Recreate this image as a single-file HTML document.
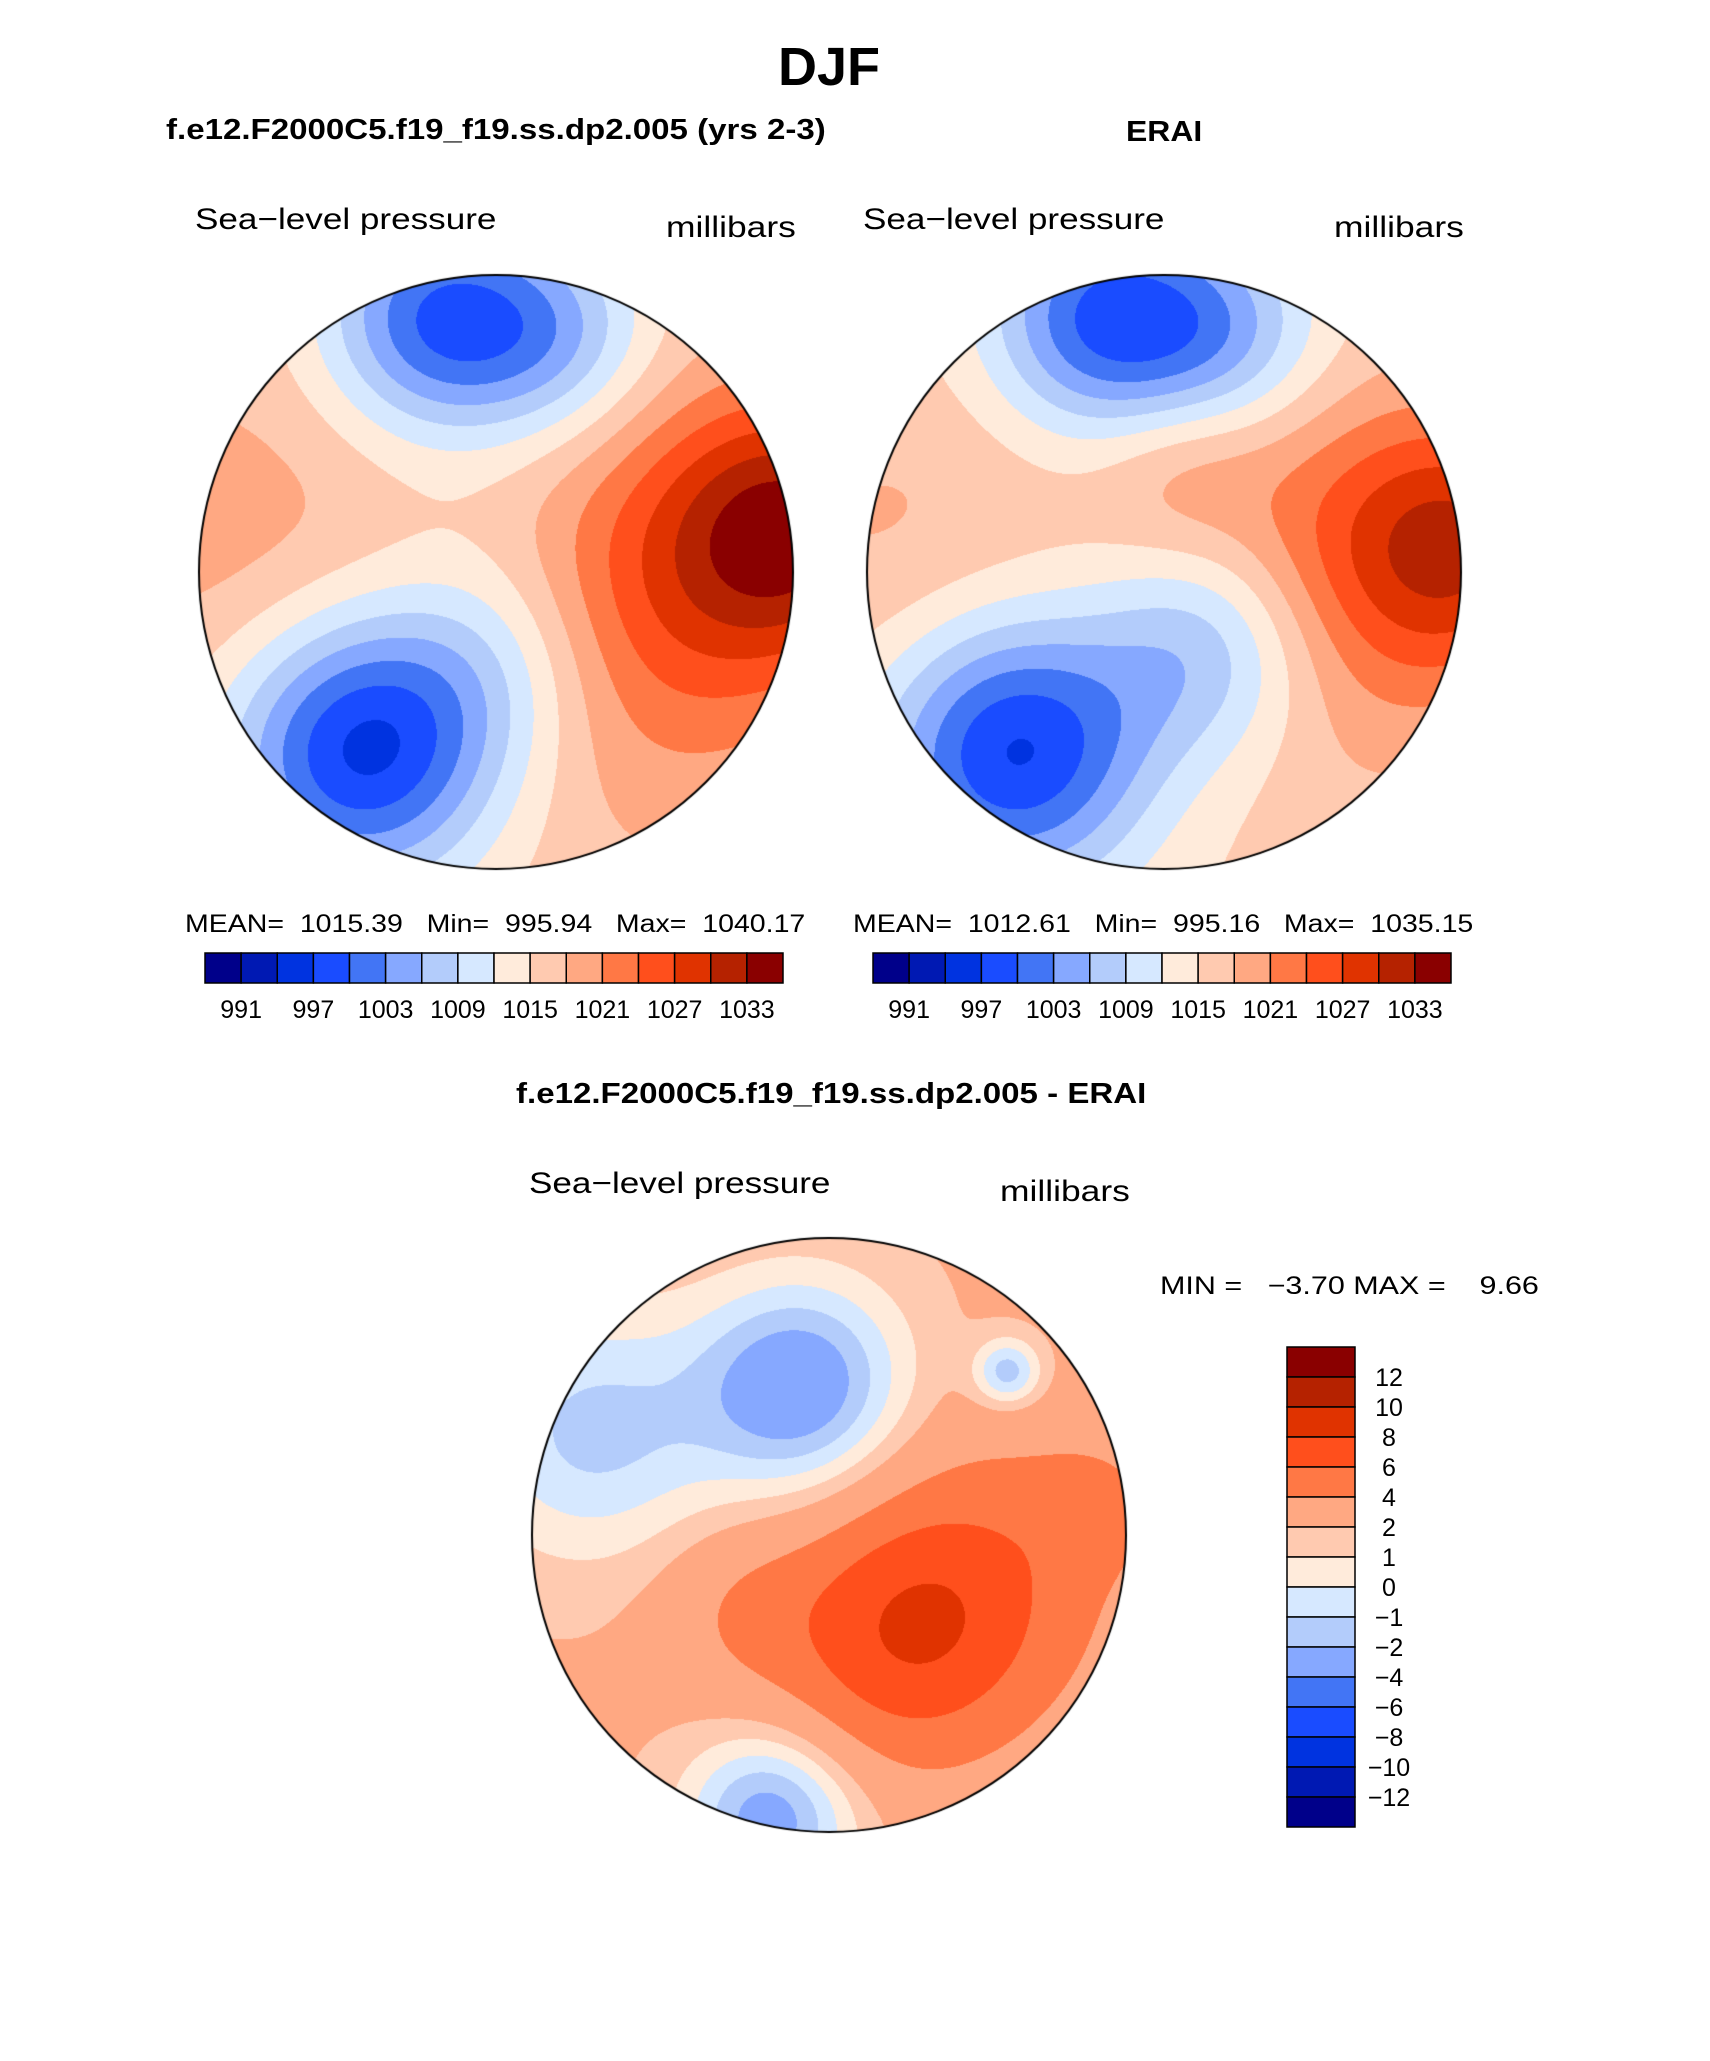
<!DOCTYPE html>
<html><head><meta charset="utf-8">
<style>
body{margin:0;background:#fff;}
#root{position:relative;width:1710px;height:2061px;overflow:hidden;background:#fff;font-family:"Liberation Sans",sans-serif;color:#000;}
.t{position:absolute;white-space:nowrap;line-height:1;transform-origin:0 0;}
.b{font-weight:bold;}
canvas{position:absolute;}
</style></head><body>
<div id="root">
<div class="t b" style="left:0;width:1658px;text-align:center;top:40px;font-size:54px;">DJF</div>
<div class="t b" style="left:166px;top:116px;font-size:29px;transform:scaleX(1.14);">f.e12.F2000C5.f19_f19.ss.dp2.005 (yrs 2-3)</div>
<div class="t b" style="left:1126px;top:118px;font-size:29px;transform:scaleX(1.1);">ERAI</div>
<div class="t" style="left:195px;top:205px;font-size:30px;transform:scaleX(1.17);">Sea−level pressure</div>
<div class="t" style="left:666px;top:213px;font-size:30px;transform:scaleX(1.18);">millibars</div>
<div class="t" style="left:863px;top:205px;font-size:30px;transform:scaleX(1.17);">Sea−level pressure</div>
<div class="t" style="left:1334px;top:213px;font-size:30px;transform:scaleX(1.18);">millibars</div>
<div class="t" style="left:185px;top:912px;font-size:25px;transform:scaleX(1.14);">MEAN=&nbsp; 1015.39 &nbsp;&nbsp;Min=&nbsp; 995.94 &nbsp;&nbsp;Max=&nbsp; 1040.17</div>
<div class="t" style="left:853px;top:912px;font-size:25px;transform:scaleX(1.14);">MEAN=&nbsp; 1012.61 &nbsp;&nbsp;Min=&nbsp; 995.16 &nbsp;&nbsp;Max=&nbsp; 1035.15</div>
<div class="t b" style="left:516px;top:1080px;font-size:29px;transform:scaleX(1.14);">f.e12.F2000C5.f19_f19.ss.dp2.005 - ERAI</div>
<div class="t" style="left:529px;top:1169px;font-size:30px;transform:scaleX(1.17);">Sea−level pressure</div>
<div class="t" style="left:1000px;top:1177px;font-size:30px;transform:scaleX(1.18);">millibars</div>
<div class="t" style="left:1160px;top:1274px;font-size:25px;transform:scaleX(1.22);">MIN = &nbsp;&nbsp;−3.70 MAX = &nbsp;&nbsp;&nbsp;9.66</div>
<canvas id="m1" width="600" height="600" style="left:196px;top:272px;"></canvas>
<canvas id="m2" width="600" height="600" style="left:864px;top:272px;"></canvas>
<canvas id="m3" width="600" height="600" style="left:529px;top:1235px;"></canvas>
<svg id="bars" width="1710" height="2061" style="position:absolute;left:0;top:0;"></svg>
</div>
<script>
const palette=['#00008a','#0019b3','#0033e0','#1a4cff','#4275f5','#86a8ff','#b3ccfb','#d6e8ff','#ffebdb','#ffcab0','#ffa882','#ff7845','#ff4f1c','#e03300','#b52200','#8a0000'];
const absLevels=[991,994,997,1000,1003,1006,1009,1012,1015,1018,1021,1024,1027,1030,1033];
const absTickLabels=['991','997','1003','1009','1015','1021','1027','1033'];
const diffLevels=[-12,-10,-8,-6,-4,-2,-1,0,1,2,4,6,8,10,12];
const diffTickLabels=['12','10','8','6','4','2','1','0','−1','−2','−4','−6','−8','−10','−12'];
// Pressure centers (normalized disk coords); amplitude hPa; width
const modelBase=1016.5;
const modelCx=[-0.2,0.2,-0.45,0.0,1.0,0.5,-0.9,0.05];
const modelCy=[-0.85,-0.8,0.6,0.3,-0.15,0.1,-0.1,-0.2];
const modelAmp=[-16,-9,-20,-7,15,9,3,-2];
const modelW=[0.27,0.24,0.32,0.28,0.3,0.45,0.4,0.3];
const eraiBase=1015.5;
const eraiCx=[-0.2,0.2,-0.5,0.15,1.0,0.5,-0.9,0.05];
const eraiCy=[-0.85,-0.8,0.6,0.25,-0.1,0.05,-0.1,-0.35];
const eraiAmp=[-16,-9,-19,-12,12,8,3,3];
const eraiW=[0.27,0.24,0.32,0.28,0.3,0.45,0.4,0.2];
const diffBase=2.2;
const diffCx=[-0.1,-0.2,0.6,-0.8,0.25,0.55,-0.3,0.9];
const diffCy=[-0.5,0.95,-0.55,-0.35,0.35,0.1,0.25,-0.1];
const diffAmp=[-5.5,-5,-4,-3.5,4.8,2.5,1.5,1.5];
const diffW=[0.25,0.2,0.08,0.3,0.3,0.35,0.2,0.15];

function drawMap(id,base,cx,cy,amp,w,levels){
  const c=document.getElementById(id),ctx=c.getContext('2d');
  const img=ctx.createImageData(600,600),R=297,C=300;
  const cols=palette.map(h=>[parseInt(h.substr(1,2),16),parseInt(h.substr(3,2),16),parseInt(h.substr(5,2),16)]);
  for(let py=0;py<600;py++)for(let px=0;px<600;px++){
    const x=(px-C)/R,y=(py-C)/R;if(x*x+y*y>1)continue;
    let v=base;for(let k=0;k<cx.length;k++){const dx=x-cx[k],dy=y-cy[k];v+=amp[k]*Math.exp(-(dx*dx+dy*dy)/(2*w[k]*w[k]));}
    let i=0;while(i<levels.length&&v>=levels[i])i++;
    const col=cols[i],o=(py*600+px)*4;img.data[o]=col[0];img.data[o+1]=col[1];img.data[o+2]=col[2];img.data[o+3]=255;
  }
  ctx.putImageData(img,0,0);
  ctx.beginPath();ctx.arc(C,C,R,0,Math.PI*2);ctx.lineWidth=2;ctx.strokeStyle='#000';ctx.stroke();
}
drawMap('m1',modelBase,modelCx,modelCy,modelAmp,modelW,absLevels);
drawMap('m2',eraiBase,eraiCx,eraiCy,eraiAmp,eraiW,absLevels);
drawMap('m3',diffBase,diffCx,diffCy,diffAmp,diffW,diffLevels);

const svg=document.getElementById('bars'),NS='http://www.w3.org/2000/svg';
function hbar(x0,x1,y0,y1,name){
  const bw=(x1-x0)/palette.length;
  palette.forEach((col,i)=>{const r=document.createElementNS(NS,'rect');
    r.setAttribute('x',x0+i*bw);r.setAttribute('y',y0);r.setAttribute('width',bw);r.setAttribute('height',y1-y0);
    r.setAttribute('fill',col);r.setAttribute('stroke','#000');r.setAttribute('stroke-width','1.5');
    
    
    svg.appendChild(r);});
  absTickLabels.forEach((lab,j)=>{const t=document.createElementNS(NS,'text');
    t.setAttribute('x',x0+(1+2*j)*bw);t.setAttribute('y',y1+35);t.setAttribute('text-anchor','middle');
    t.setAttribute('font-size','25');t.setAttribute('font-family','Liberation Sans, sans-serif');t.textContent=lab;
    
    
    svg.appendChild(t);});
}
hbar(205,783,953,983,'left-colorbar');
hbar(873,1451,953,983,'right-colorbar');
(function(){const x0=1287,x1=1355,y0=1347,y1=1827,bh=(y1-y0)/palette.length;
  palette.slice().reverse().forEach((col,i)=>{const r=document.createElementNS(NS,'rect');
    r.setAttribute('x',x0);r.setAttribute('y',y0+i*bh);r.setAttribute('width',x1-x0);r.setAttribute('height',bh);
    r.setAttribute('fill',col);r.setAttribute('stroke','#000');r.setAttribute('stroke-width','1.5');
    
    
    svg.appendChild(r);});
  diffTickLabels.forEach((lab,j)=>{const t=document.createElementNS(NS,'text');
    t.setAttribute('x',1389);t.setAttribute('y',y0+(j+1)*bh+9);t.setAttribute('text-anchor','middle');
    t.setAttribute('font-size','25');t.setAttribute('font-family','Liberation Sans, sans-serif');t.textContent=lab;
    
    
    svg.appendChild(t);});
})();
</script>
</body></html>
